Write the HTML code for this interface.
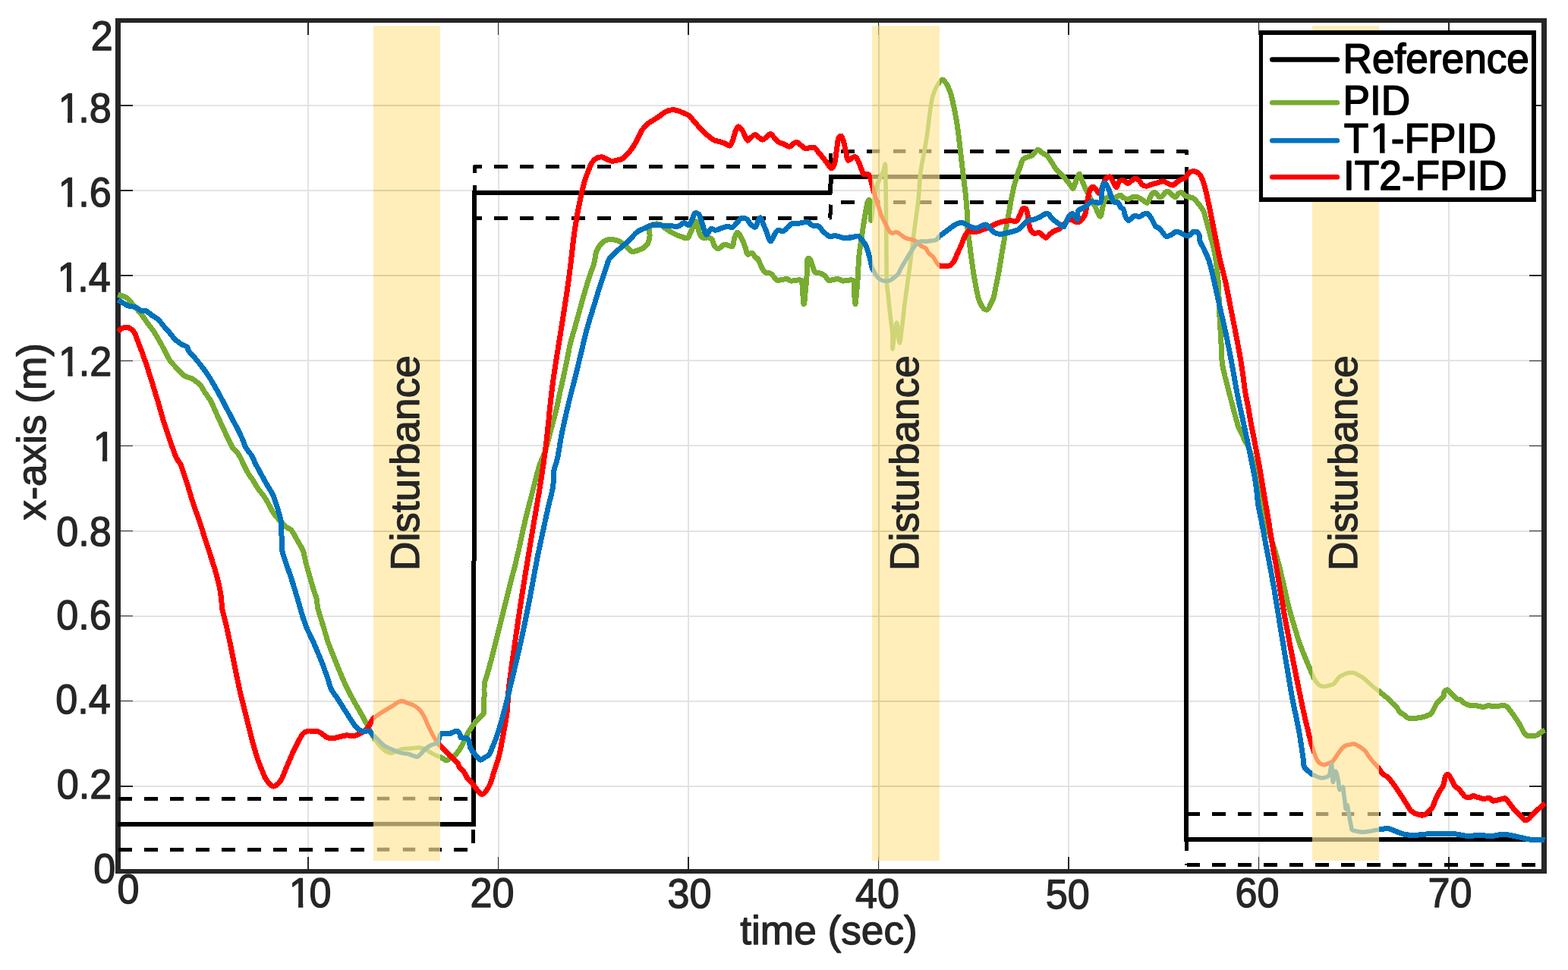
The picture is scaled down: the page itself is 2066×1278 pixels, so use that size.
<!DOCTYPE html>
<html lang="en"><head><meta charset="utf-8"><title>x-axis tracking: Reference, PID, T1-FPID, IT2-FPID</title>
<style>html,body{margin:0;padding:0;background:#fff}body{width:2066px;height:1278px;overflow:hidden}svg{display:block}text{font-family:"Liberation Sans",Arial,Helvetica,sans-serif;white-space:pre}</style>
</head><body>
<svg width="2066" height="1278" viewBox="0 0 2066 1278">
<defs>
<clipPath id="out"><path clip-rule="evenodd" d="M0,0H2066V1278H0Z M492.0,33.5V1133.8H579.7V33.5Z M1149.2,33.5V1133.8H1237.8V33.5Z M1729.0,33.5V1133.8H1816.8V33.5Z"/></clipPath>
<clipPath id="in"><rect x="492.0" y="33.5" width="87.7" height="1100.3"/><rect x="1149.2" y="33.5" width="88.6" height="1100.3"/><rect x="1729.0" y="33.5" width="87.8" height="1100.3"/></clipPath>
</defs>
<rect width="2066" height="1278" fill="#fff"/>
<path d="M406.0,26.9V1147.9 M656.5,26.9V1147.9 M907.1,26.9V1147.9 M1157.6,26.9V1147.9 M1408.1,26.9V1147.9 M1658.6,26.9V1147.9 M1909.1,26.9V1147.9 M155.5,1035.8H2034.4 M155.5,923.7H2034.4 M155.5,811.6H2034.4 M155.5,699.5H2034.4 M155.5,587.4H2034.4 M155.5,475.3H2034.4 M155.5,363.2H2034.4 M155.5,251.1H2034.4 M155.5,139.0H2034.4" stroke="#000" stroke-opacity="0.108" stroke-width="2" fill="none" shape-rendering="crispEdges"/>
<path d="M152.20,27.00H2037.70 M152.20,1147.90H2037.70" fill="none" stroke="#262626" stroke-width="5.8" shape-rendering="crispEdges"/>
<path d="M155.55,24.10V1150.80 M2034.40,24.10V1150.80" fill="none" stroke="#262626" stroke-width="6.6" shape-rendering="crispEdges"/>
<path d="M406.0,1147.9v-19.0 M406.0,26.9v19.0 M656.5,1147.9v-19.0 M656.5,26.9v19.0 M907.1,1147.9v-19.0 M907.1,26.9v19.0 M1157.6,1147.9v-19.0 M1157.6,26.9v19.0 M1408.1,1147.9v-19.0 M1408.1,26.9v19.0 M1658.6,1147.9v-19.0 M1658.6,26.9v19.0 M1909.1,1147.9v-19.0 M1909.1,26.9v19.0 M155.5,1035.8h19.0 M2034.4,1035.8h-19.0 M155.5,923.7h19.0 M2034.4,923.7h-19.0 M155.5,811.6h19.0 M2034.4,811.6h-19.0 M155.5,699.5h19.0 M2034.4,699.5h-19.0 M155.5,587.4h19.0 M2034.4,587.4h-19.0 M155.5,475.3h19.0 M2034.4,475.3h-19.0 M155.5,363.2h19.0 M2034.4,363.2h-19.0 M155.5,251.1h19.0 M2034.4,251.1h-19.0 M155.5,139.0h19.0 M2034.4,139.0h-19.0" stroke="#262626" stroke-width="1.5" fill="none" shape-rendering="crispEdges"/>
<defs>
<path id="pg" d="M155.5,388.4C162.3,390.7 163.9,390.1 167.1,392.3C170.3,394.4 171.9,397.8 174.8,401.0C178.3,405.0 183.1,410.1 186.5,414.5C189.5,418.4 191.8,422.3 194.4,425.9C197.0,429.4 199.5,432.0 202.0,435.8C205.1,440.3 208.6,446.6 211.3,451.5C213.6,455.5 215.4,459.0 217.5,462.9C219.7,467.0 221.5,471.7 224.2,475.5C226.7,479.1 230.0,481.9 233.0,485.1C236.1,488.4 239.0,492.4 242.6,494.9C246.1,497.2 250.6,497.6 254.2,499.7C257.7,501.8 261.2,504.5 263.9,507.5C266.4,510.3 267.8,513.7 269.9,517.0C272.3,520.5 275.3,523.9 277.5,527.8C279.8,531.8 281.3,536.2 283.2,540.4C285.2,544.8 287.3,549.5 289.3,553.8C291.1,557.9 292.8,561.5 294.7,565.6C296.7,569.9 298.9,574.8 301.0,579.0C302.9,582.8 304.3,586.4 306.5,589.7C308.7,592.9 312.0,595.2 314.2,598.5C316.5,601.9 318.0,605.8 320.0,609.7C322.2,614.0 324.4,619.1 326.8,623.2C328.9,626.8 331.2,629.6 333.4,633.0C335.7,636.7 337.9,640.9 340.4,644.5C342.8,647.9 345.7,650.7 348.1,654.2C350.6,657.8 352.7,662.0 354.8,665.9C356.9,669.5 358.5,673.2 360.7,676.5C362.8,679.6 365.3,682.2 367.8,685.0C370.2,687.7 372.5,690.6 375.2,692.9C377.9,695.2 381.5,696.2 383.9,698.7C386.4,701.3 387.9,705.2 389.8,708.4C391.7,711.7 393.7,715.1 395.4,718.2C396.9,720.9 398.3,722.8 399.4,725.8C400.8,729.6 401.4,734.8 402.5,739.3C403.7,743.9 404.9,748.5 406.2,753.0C407.5,757.5 408.8,762.0 410.1,766.5C411.4,771.0 412.9,776.2 414.2,780.0C415.2,783.0 416.2,784.8 416.9,787.8C417.8,791.7 417.8,796.9 418.8,801.4C419.8,805.9 421.5,810.5 422.8,814.9C424.0,818.9 425.2,822.5 426.4,826.5C427.7,830.9 429.2,836.3 430.4,840.1C431.2,842.9 431.7,844.5 432.7,847.3C434.1,851.1 436.2,856.4 438.0,861.1C440.0,866.1 442.2,871.5 444.2,876.4C446.1,881.1 447.9,885.5 449.8,890.0C451.7,894.5 453.8,899.2 455.8,903.5C457.7,907.5 459.5,911.1 461.6,915.1C463.9,919.5 466.6,924.2 469.1,928.7C471.7,933.2 474.6,938.1 477.0,942.3C478.9,945.8 480.6,948.9 482.3,952.2C483.9,955.3 485.3,958.5 486.9,961.6C488.4,964.5 489.8,967.2 491.7,970.2C493.7,973.6 496.1,977.6 498.7,980.7C501.1,983.6 503.7,986.4 506.5,988.4C508.9,990.2 511.6,992.1 514.2,992.3C516.7,992.5 519.3,990.9 521.9,990.0C524.5,989.1 526.8,987.6 529.7,986.9C533.1,986.1 537.4,986.4 541.3,986.1C545.2,985.8 549.4,984.7 552.9,985.1C555.8,985.4 558.2,986.4 560.7,987.5C563.4,988.7 565.9,990.7 568.5,992.1C571.1,993.5 574.2,995.1 576.3,996.1C577.5,996.6 578.3,996.8 579.4,997.3C580.7,997.9 582.4,998.5 583.8,999.3C585.2,1000.0 586.5,1001.9 587.9,1002.0C589.4,1002.1 590.8,1000.4 592.4,999.5C594.4,998.4 596.8,997.4 598.7,995.8C600.7,994.1 602.4,991.6 604.0,989.5C605.4,987.6 606.5,986.0 607.7,983.9C609.1,981.5 610.5,978.4 611.9,975.6C613.3,972.8 614.5,969.8 615.9,967.2C617.2,964.7 618.3,962.6 619.9,960.3C621.6,957.5 624.0,954.3 626.1,951.8C627.8,949.7 629.4,948.1 631.2,946.2C633.1,944.2 637.5,940.3 637.4,940.0C637.4,940.0 637.3,940.1 637.2,940.0C636.6,939.4 637.8,925.6 638.0,918.7C638.2,912.1 637.6,904.7 638.5,899.4C639.2,895.5 640.5,893.7 641.7,889.6C643.7,882.9 646.6,871.8 649.0,862.7C651.4,853.2 653.9,842.8 656.2,833.6C658.2,825.4 660.0,818.1 662.0,810.4C663.9,802.6 665.8,794.9 667.8,787.1C669.8,779.4 671.8,771.5 673.7,763.9C675.6,756.7 677.4,749.7 679.2,742.5C680.9,735.5 682.5,728.5 684.2,721.3C685.9,713.7 687.4,705.8 689.2,698.1C690.9,690.4 692.9,682.1 694.7,674.9C696.2,668.6 697.7,663.1 699.2,657.3C700.6,651.5 701.9,646.5 703.5,640.1C705.6,632.1 708.2,621.2 710.9,613.0C713.3,605.9 716.2,600.8 718.6,593.6C721.4,585.0 723.8,573.9 726.3,564.6C728.7,555.9 731.1,547.8 733.1,539.4C735.1,531.0 736.7,521.9 738.4,514.3C739.8,507.9 741.0,502.8 742.4,496.7C743.8,490.0 745.3,482.8 746.8,475.5C748.4,468.0 749.7,459.7 751.5,452.3C753.2,445.5 755.3,439.3 757.1,432.8C758.9,426.4 760.4,420.8 762.4,413.6C764.9,404.6 768.3,391.8 771.0,382.7C773.1,375.5 775.0,369.5 777.0,363.4C778.8,357.9 781.0,353.2 782.5,347.8C784.1,342.2 784.4,334.9 786.2,330.4C787.5,327.2 789.0,324.9 790.9,322.6C792.8,320.3 795.2,318.0 797.7,316.8C800.0,315.7 802.7,315.5 805.2,315.5C807.8,315.5 810.5,316.0 813.0,316.8C815.6,317.7 818.4,319.1 820.7,320.7C822.9,322.3 824.6,324.6 826.6,326.4C828.5,328.1 830.1,330.7 832.3,331.3C834.6,331.9 837.6,330.8 840.1,330.0C842.7,329.2 845.5,328.1 847.8,326.5C850.0,325.0 852.2,323.1 853.6,320.7C855.1,318.0 855.6,314.4 856.0,311.0C856.4,307.3 854.6,302.0 856.0,299.4C857.0,297.4 859.3,296.2 861.4,295.5C863.6,294.8 866.6,294.7 869.1,295.5C871.9,296.4 874.4,299.4 877.0,301.2C879.6,302.9 882.1,304.5 884.7,306.0C887.3,307.4 889.9,308.8 892.5,309.9C894.8,310.8 896.9,311.6 899.2,312.3C901.4,313.0 904.2,314.7 905.9,313.9C907.7,313.1 908.2,309.6 909.5,307.0C911.2,303.7 913.4,298.4 914.9,295.6C915.7,294.0 916.4,291.6 917.1,291.7C918.0,291.8 918.6,296.7 919.5,299.4C920.4,302.5 920.9,306.6 922.4,309.1C923.6,311.2 925.4,313.3 927.2,313.9C928.9,314.5 931.2,312.8 933.0,313.0C934.7,313.2 936.6,313.6 937.9,314.9C939.8,316.8 939.9,322.5 941.7,324.6C943.0,326.2 944.8,327.6 946.6,327.5C948.9,327.4 951.8,322.7 954.3,322.2C956.3,321.8 958.3,323.1 960.1,323.6C961.8,323.9 963.8,325.4 965.0,324.6C966.9,323.4 966.6,316.3 967.9,313.0C968.9,310.4 970.2,306.3 971.7,306.2C973.4,306.1 975.8,311.7 977.5,314.9C979.4,318.4 980.8,323.0 982.2,326.6C983.4,329.7 983.5,334.3 985.3,335.2C986.7,335.9 989.4,332.7 991.1,333.3C993.1,333.9 994.5,339.4 995.9,340.1C996.6,340.5 997.2,339.8 997.8,340.1C998.5,340.5 999.0,341.7 999.6,342.9C1000.7,345.0 1002.0,349.2 1003.5,352.0C1004.9,354.6 1006.0,357.7 1008.1,359.0C1010.0,360.2 1013.1,359.2 1015.1,360.2C1017.0,361.2 1018.2,363.3 1019.7,364.8C1021.3,366.3 1022.6,368.8 1024.4,369.4C1026.1,369.9 1028.2,368.7 1030.2,368.5C1032.4,368.2 1035.2,367.3 1037.2,367.7C1038.9,368.0 1040.1,369.7 1041.8,370.0C1043.8,370.4 1046.5,369.4 1048.8,369.3C1051.1,369.2 1054.4,368.1 1055.8,369.4C1057.5,370.9 1056.7,375.0 1057.2,378.7C1057.8,384.5 1058.5,400.8 1059.2,400.8C1059.8,400.8 1060.6,390.4 1061.2,384.5C1062.0,377.4 1062.7,368.8 1063.2,361.3C1063.7,354.2 1062.6,341.6 1064.5,340.4C1065.2,339.9 1066.5,340.7 1067.4,341.6C1069.0,343.3 1069.9,348.8 1071.2,351.9C1072.2,354.5 1072.5,357.6 1074.3,359.0C1076.0,360.3 1079.1,359.4 1081.3,360.2C1083.4,361.0 1085.4,362.1 1087.1,363.6C1088.9,365.2 1089.9,368.7 1091.8,369.4C1093.5,370.0 1095.6,368.7 1097.6,368.5C1099.8,368.2 1102.3,367.4 1104.5,367.7C1106.6,368.0 1108.3,369.7 1110.4,370.0C1112.6,370.3 1115.0,369.4 1117.3,369.3C1119.6,369.2 1122.8,368.0 1124.3,369.4C1126.5,371.5 1125.1,379.4 1125.5,384.5C1126.0,389.8 1126.4,400.8 1126.9,400.8C1127.4,400.8 1128.1,390.4 1128.7,384.5C1129.4,377.4 1130.0,369.0 1130.5,361.3C1131.0,353.6 1131.1,345.8 1131.8,338.1C1132.5,330.3 1134.0,322.0 1135.0,314.8C1135.9,308.6 1136.6,303.5 1137.6,297.4C1138.7,290.5 1140.1,281.3 1141.2,275.6C1142.0,271.7 1142.3,268.1 1143.3,266.0C1143.9,264.8 1144.9,263.3 1145.5,263.5C1146.5,263.8 1146.4,270.9 1146.7,275.0C1147.2,279.9 1147.2,291.0 1147.8,291.0C1148.4,291.0 1149.4,280.2 1150.1,275.0C1150.9,270.2 1151.7,265.8 1152.4,261.0C1153.2,256.0 1153.6,250.4 1154.9,245.9C1156.0,242.2 1157.6,239.2 1159.0,235.9C1160.4,232.7 1162.2,229.8 1163.4,226.5C1164.6,223.1 1165.7,215.9 1166.3,216.0C1167.1,216.1 1166.7,228.2 1166.9,235.0C1167.0,242.8 1167.1,249.1 1167.3,260.0C1167.5,280.7 1167.9,329.8 1168.1,350.0C1168.2,360.3 1167.9,366.3 1168.4,373.3C1168.8,379.0 1169.6,383.6 1170.2,388.8C1170.8,394.0 1171.2,399.1 1171.8,404.3C1172.3,409.5 1172.8,414.3 1173.5,419.8C1174.2,426.1 1175.4,433.3 1175.8,440.0C1176.2,446.7 1175.5,460.0 1176.0,460.0C1176.4,460.0 1177.5,448.0 1178.4,442.1C1179.4,436.3 1180.6,425.0 1181.6,425.0C1182.9,425.0 1184.1,452.0 1185.3,452.0C1186.2,452.0 1187.2,440.9 1187.9,435.5C1188.6,430.2 1189.2,425.2 1189.8,420.0C1190.4,414.8 1190.9,409.5 1191.5,404.3C1192.1,399.1 1192.8,394.5 1193.5,388.8C1194.5,381.8 1195.8,372.5 1196.8,365.5C1197.6,359.8 1198.1,355.9 1198.9,350.0C1199.9,342.0 1201.2,330.9 1202.3,322.0C1203.4,313.9 1204.3,306.5 1205.3,298.8C1206.3,291.0 1207.6,282.5 1208.5,275.5C1209.2,269.8 1209.7,266.1 1210.3,260.0C1211.2,250.9 1211.6,237.0 1213.0,226.5C1214.2,217.0 1216.4,207.7 1217.9,199.4C1219.1,192.4 1219.9,188.0 1221.2,179.9C1223.3,166.5 1225.5,138.8 1229.0,126.5C1231.0,119.6 1233.3,114.9 1235.8,111.0C1237.6,108.3 1239.7,104.8 1241.6,104.8C1243.5,104.8 1245.7,108.4 1247.4,111.0C1249.4,114.1 1250.9,118.3 1252.3,122.6C1254.0,127.8 1255.3,134.0 1256.7,140.1C1258.1,146.8 1259.5,154.1 1260.7,161.3C1261.9,168.9 1262.8,176.5 1263.8,184.5C1264.9,193.2 1265.9,203.0 1266.9,211.7C1267.9,219.7 1268.8,227.2 1269.7,234.9C1270.6,242.6 1271.7,250.7 1272.5,258.1C1273.1,264.9 1273.7,270.9 1274.1,277.5C1274.5,284.6 1274.2,292.3 1274.8,299.4C1275.3,306.0 1276.4,312.3 1277.2,318.7C1278.0,325.2 1278.7,331.5 1279.6,338.1C1280.6,345.0 1281.6,352.5 1282.7,359.4C1283.7,366.0 1284.9,372.6 1286.1,378.6C1287.2,384.1 1288.2,389.8 1289.6,394.2C1290.7,397.5 1291.9,400.4 1293.4,402.7C1294.6,404.6 1295.8,406.6 1297.3,407.4C1298.5,408.0 1300.1,408.4 1301.2,407.8C1302.7,407.0 1303.6,404.0 1304.7,401.8C1306.1,399.1 1307.8,396.1 1308.9,392.7C1310.3,388.6 1310.9,383.5 1311.9,378.7C1313.0,373.7 1314.2,368.0 1315.1,363.2C1315.9,359.0 1316.5,355.8 1317.2,351.6C1318.1,346.4 1319.1,339.9 1320.0,334.2C1320.9,328.9 1321.8,323.8 1322.7,318.7C1323.6,313.5 1324.5,308.2 1325.3,303.2C1326.1,298.7 1326.8,294.2 1327.5,290.1C1328.2,286.5 1328.7,283.8 1329.4,280.0C1330.3,274.9 1331.5,267.8 1332.6,262.0C1333.7,256.7 1334.6,251.5 1335.8,246.6C1337.0,241.9 1338.2,237.6 1339.6,233.1C1341.0,228.5 1342.8,223.6 1344.3,219.4C1345.6,215.9 1346.2,211.7 1348.1,209.7C1349.5,208.2 1351.3,207.9 1353.2,207.2C1355.2,206.3 1357.9,206.1 1359.7,204.9C1361.4,203.8 1362.5,201.6 1363.8,200.3C1365.1,199.1 1366.2,197.1 1367.5,197.1C1369.0,197.0 1370.6,199.5 1372.4,200.8C1374.7,202.4 1377.9,203.7 1380.1,205.8C1382.4,208.0 1383.8,210.9 1385.7,213.7C1387.7,216.8 1389.6,220.6 1391.7,223.3C1393.5,225.6 1395.5,227.0 1397.5,229.1C1399.8,231.5 1402.6,234.4 1404.9,237.0C1407.1,239.6 1409.4,242.5 1411.0,244.6C1412.2,246.1 1413.0,248.5 1413.9,248.4C1414.9,248.3 1415.6,244.7 1416.5,242.5C1417.6,239.7 1418.5,235.4 1419.7,233.0C1420.5,231.3 1421.5,229.0 1422.3,229.1C1423.2,229.2 1423.7,232.7 1424.6,234.9C1425.7,237.7 1427.1,241.4 1428.5,244.6C1429.8,247.8 1431.1,250.9 1432.7,254.0C1434.3,257.3 1436.3,260.6 1438.1,263.9C1439.9,267.2 1441.8,270.3 1443.7,273.7C1445.7,277.4 1448.3,285.4 1449.8,285.2C1451.3,285.0 1451.8,277.3 1452.8,273.6C1453.7,270.2 1454.2,266.3 1455.6,263.9C1456.6,262.2 1457.7,260.7 1459.4,260.1C1461.4,259.4 1464.5,261.4 1467.2,261.0C1470.3,260.6 1474.7,256.7 1476.9,257.2C1478.4,257.5 1478.7,259.6 1480.0,260.4C1481.6,261.4 1484.2,262.4 1486.3,262.3C1488.4,262.2 1490.5,260.2 1492.6,259.8C1494.7,259.4 1496.9,259.3 1498.9,259.8C1501.0,260.3 1503.0,261.9 1505.1,263.1C1507.2,264.4 1509.8,267.7 1511.5,267.3C1513.2,266.9 1514.0,262.7 1515.3,260.4C1516.5,258.3 1517.5,255.0 1519.0,254.1C1520.1,253.5 1521.6,253.5 1522.8,254.1C1524.5,254.9 1526.1,259.3 1527.8,259.8C1529.0,260.1 1530.4,259.3 1531.6,258.5C1533.2,257.4 1534.4,253.7 1536.0,252.9C1537.2,252.3 1538.6,252.5 1539.8,252.9C1541.3,253.4 1542.8,255.4 1544.3,256.5C1545.7,257.7 1547.2,259.9 1548.6,259.8C1550.1,259.6 1551.4,255.7 1553.0,254.7C1554.2,253.9 1555.5,253.2 1556.8,253.5C1558.5,253.8 1560.0,256.9 1561.8,257.9C1563.4,258.8 1565.2,259.1 1566.9,259.6C1568.5,260.1 1570.3,260.1 1571.9,261.0C1573.7,262.0 1575.1,263.9 1576.7,265.6C1578.4,267.5 1580.2,269.7 1581.7,271.8C1583.2,273.9 1584.6,275.6 1585.7,278.0C1587.0,280.9 1587.8,284.8 1588.7,288.1C1589.7,291.5 1590.5,294.7 1591.5,298.2C1592.5,301.8 1593.5,305.7 1594.5,309.5C1595.5,313.3 1596.6,317.1 1597.5,320.8C1598.5,324.6 1599.3,328.2 1600.1,332.1C1601.0,336.2 1601.6,339.8 1602.3,344.7C1603.3,351.5 1604.4,361.4 1605.0,368.9C1605.5,375.6 1605.7,381.5 1605.9,387.8C1606.2,394.1 1606.2,400.5 1606.4,406.6C1606.6,412.2 1607.0,417.4 1607.3,423.0C1607.6,428.8 1608.1,434.8 1608.4,440.6C1608.8,446.2 1609.0,451.5 1609.2,457.0C1609.4,462.4 1609.6,468.7 1609.9,473.3C1610.2,476.7 1610.4,479.0 1610.9,482.0C1611.4,485.3 1612.2,488.7 1613.1,492.2C1613.9,495.9 1615.0,499.6 1616.0,503.5C1617.1,507.7 1618.1,511.8 1619.3,516.4C1620.7,521.8 1622.3,528.2 1623.8,534.0C1625.2,539.5 1626.8,545.2 1628.2,550.3C1629.5,554.8 1630.4,559.0 1631.9,562.9C1633.3,566.5 1635.2,569.8 1636.8,573.1C1638.2,576.0 1639.5,578.8 1640.9,581.7C1642.4,584.6 1644.3,587.3 1645.7,590.6C1647.3,594.4 1648.2,599.0 1649.5,603.2C1650.8,607.4 1652.0,611.6 1653.3,615.8C1654.5,620.0 1655.9,623.9 1657.0,628.4C1658.2,633.4 1658.7,638.9 1659.9,644.7C1661.1,651.4 1662.9,659.7 1664.4,666.4C1665.6,672.2 1666.8,677.2 1668.0,682.7C1669.2,688.5 1670.1,694.7 1671.6,700.3C1673.0,705.6 1675.0,710.4 1676.7,715.4C1678.3,720.5 1680.0,725.5 1681.4,730.6C1682.9,735.6 1684.2,740.6 1685.5,745.6C1686.8,750.6 1688.0,755.8 1689.1,760.7C1690.3,765.4 1691.3,770.0 1692.4,774.6C1693.4,779.2 1694.4,783.9 1695.4,788.4C1696.4,792.7 1697.3,796.8 1698.4,800.9C1699.4,804.9 1700.5,808.7 1701.7,812.6C1702.8,816.7 1704.2,821.0 1705.4,825.2C1706.7,829.4 1707.9,833.6 1709.2,837.8C1710.5,842.0 1711.9,846.3 1713.3,850.2C1714.6,853.8 1715.9,857.0 1717.3,860.4C1718.8,864.1 1720.4,868.2 1721.9,871.7C1723.2,874.8 1724.4,877.7 1725.6,880.5C1726.8,883.1 1727.8,885.5 1729.0,888.1C1730.3,890.9 1731.4,894.4 1733.1,896.9C1734.6,899.1 1736.2,901.3 1738.2,902.6C1740.0,903.8 1742.4,904.4 1744.5,904.5C1746.5,904.6 1748.6,903.7 1750.6,903.2C1752.8,902.6 1755.3,902.4 1757.0,901.3C1758.6,900.2 1759.5,898.4 1760.7,896.8C1762.0,895.2 1763.1,893.2 1764.6,891.9C1766.1,890.6 1767.9,889.9 1769.8,889.1C1771.7,888.2 1773.7,887.2 1775.9,886.8C1778.3,886.3 1781.3,886.2 1783.5,886.6C1785.4,887.0 1786.7,888.0 1788.5,888.8C1790.4,889.8 1792.8,890.9 1794.7,892.1C1796.4,893.3 1798.0,894.5 1799.6,895.8C1801.1,897.1 1802.3,898.5 1803.7,899.9C1805.3,901.3 1806.9,902.7 1808.8,904.3C1811.1,906.2 1814.3,908.5 1816.7,910.5C1818.9,912.3 1820.9,914.0 1822.9,915.6C1824.9,917.3 1827.0,918.6 1828.9,920.3C1830.8,922.1 1832.4,924.4 1834.3,926.3C1836.2,928.2 1838.7,929.6 1840.3,931.6C1841.9,933.5 1842.4,936.2 1844.0,937.9C1845.6,939.6 1848.2,940.5 1850.1,941.9C1852.0,943.3 1853.3,945.4 1855.4,946.1C1857.6,946.9 1860.4,946.3 1862.9,946.2C1865.4,946.2 1868.0,946.1 1870.4,945.7C1872.9,945.3 1875.4,944.6 1877.8,943.8C1880.4,942.9 1883.7,942.1 1885.6,940.4C1887.4,938.8 1888.0,936.2 1889.3,934.0C1890.5,931.7 1891.5,928.7 1893.1,926.6C1894.6,924.6 1896.6,923.1 1898.2,921.5C1899.5,920.2 1901.1,919.3 1901.9,917.8C1902.8,916.1 1902.2,913.0 1903.2,911.5C1904.1,910.2 1905.8,908.8 1907.0,908.9C1908.2,909.0 1909.2,910.7 1910.4,911.8C1911.8,913.1 1913.2,914.8 1914.7,916.3C1916.3,917.8 1917.8,919.9 1919.6,920.9C1921.2,921.8 1923.0,921.4 1924.6,922.2C1926.4,923.1 1927.7,925.5 1929.6,926.6C1931.5,927.8 1933.7,928.6 1935.9,929.1C1938.3,929.6 1941.1,929.4 1943.5,929.6C1945.7,929.9 1947.8,930.1 1949.8,930.5C1951.5,930.8 1953.0,931.7 1954.8,931.6C1956.8,931.5 1958.9,929.8 1961.1,929.7C1963.5,929.6 1966.1,930.9 1968.6,931.0C1971.1,931.1 1973.8,930.2 1976.2,930.0C1978.4,929.8 1980.7,929.3 1982.5,929.7C1984.0,930.0 1985.1,930.6 1986.3,931.6C1987.7,932.8 1988.7,934.8 1990.1,936.6C1991.6,938.6 1993.3,940.8 1994.9,943.0C1996.6,945.4 1998.3,947.9 2000.0,950.6C2001.7,953.4 2003.5,956.5 2005.0,959.4C2006.4,961.9 2007.4,965.1 2008.9,966.8C2010.0,968.1 2011.2,969.0 2012.7,969.4C2014.5,969.9 2016.9,969.3 2019.0,969.2C2021.1,969.1 2023.5,969.4 2025.3,968.7C2026.8,968.1 2027.8,966.6 2029.1,965.7C2030.3,964.8 2031.7,963.9 2032.9,963.3C2033.8,962.9 2034.8,962.7 2035.5,962.4"/>
<path id="pr" d="M155.5,436.8C157.5,435.2 158.4,433.9 160.3,432.9C162.3,431.9 165.0,430.9 167.1,431.0C168.9,431.1 170.4,431.9 171.9,432.9C173.7,434.1 175.4,435.7 176.8,437.8C178.5,440.3 179.4,444.0 180.7,447.4C182.2,451.1 183.8,455.3 185.3,459.2C186.8,463.0 188.2,467.0 189.5,470.7C190.7,474.1 191.8,477.0 192.9,480.5C194.3,484.6 195.9,489.5 197.2,493.9C198.5,497.9 199.6,501.5 200.9,505.5C202.2,509.9 203.7,514.7 205.0,519.1C206.3,523.1 207.4,526.7 208.6,530.7C209.9,535.1 211.2,539.9 212.5,544.2C213.6,548.2 214.6,551.8 215.8,555.8C217.1,560.2 218.8,565.1 220.2,569.4C221.6,573.4 222.9,577.1 224.2,581.0C225.5,584.9 226.9,588.8 228.3,592.6C229.8,596.5 231.1,600.9 232.9,604.3C234.4,607.1 236.3,608.7 237.8,611.6C239.7,615.3 241.1,620.6 242.6,625.2C244.2,629.7 245.6,634.1 247.1,638.8C248.7,643.8 250.1,649.1 251.7,654.1C253.1,658.8 254.6,663.5 256.1,667.8C257.5,671.8 258.9,675.6 260.2,679.3C261.4,682.7 262.4,685.7 263.6,689.2C265.0,693.3 266.4,698.0 267.9,702.6C269.4,707.5 271.1,713.1 272.8,718.0C274.3,722.8 275.8,727.0 277.3,731.8C279.0,736.7 280.7,742.1 282.2,747.1C283.6,751.8 284.9,756.0 286.1,760.7C287.3,765.7 288.7,771.3 289.7,776.3C290.5,780.9 291.2,785.4 291.7,789.7C292.2,793.8 292.0,797.4 292.6,801.4C293.3,805.8 294.9,810.6 295.9,814.9C296.9,818.9 297.6,822.0 298.7,826.5C300.1,832.9 302.0,842.1 303.6,849.4C305.0,856.1 306.2,862.3 307.5,868.7C308.8,875.2 310.0,881.6 311.3,888.1C312.7,894.5 314.0,900.9 315.4,907.3C316.9,913.8 318.5,920.3 320.1,926.8C321.7,933.3 323.3,939.7 324.9,946.2C326.5,952.6 328.1,959.1 329.7,965.5C331.4,971.9 333.1,978.8 334.8,984.8C336.4,990.3 337.8,995.2 339.6,1000.3C341.4,1005.5 343.5,1011.0 345.6,1015.7C347.3,1020.0 348.9,1024.2 351.0,1027.5C352.7,1030.2 354.9,1032.8 356.8,1034.3C358.1,1035.3 359.4,1036.2 360.7,1036.2C362.0,1036.2 363.3,1035.3 364.6,1034.3C366.5,1032.8 368.7,1030.3 370.4,1027.5C372.6,1023.9 374.3,1018.4 376.2,1013.9C378.1,1009.4 380.0,1004.9 382.0,1000.4C384.0,995.9 385.9,991.2 388.0,986.9C389.9,982.9 391.9,978.9 393.9,975.4C395.7,972.2 397.2,968.6 399.4,966.5C401.1,964.8 403.2,963.7 405.2,963.2C407.1,962.7 409.1,963.2 411.1,963.2C413.0,963.2 415.0,962.8 416.9,963.2C418.9,963.6 420.7,964.4 422.7,965.5C425.2,966.9 427.7,970.1 430.4,971.3C432.9,972.4 435.6,972.9 438.2,972.9C440.8,972.9 443.2,971.8 445.9,971.2C448.9,970.6 452.2,969.3 455.6,969.0C459.3,968.6 463.8,970.0 467.2,969.4C470.0,968.9 472.4,967.3 474.7,966.1C476.9,965.0 478.9,964.2 480.8,962.6C482.9,960.8 484.9,958.3 486.6,955.8C488.4,953.2 489.3,949.5 491.4,947.1C493.4,944.7 496.3,943.1 498.9,941.3C501.4,939.5 503.9,938.0 506.6,936.3C509.5,934.5 512.9,932.8 515.9,930.9C518.7,929.2 521.4,926.7 523.9,925.5C525.9,924.5 527.6,923.6 529.7,923.6C532.1,923.7 534.8,925.5 537.4,926.5C540.0,927.5 542.7,928.0 545.2,929.4C547.9,930.9 550.7,932.8 552.9,935.2C555.2,937.6 556.9,940.6 558.7,943.9C560.9,947.8 562.6,953.0 564.7,957.3C566.6,961.4 568.6,965.3 570.6,969.0C572.5,972.4 574.6,976.0 576.4,978.5C577.8,980.4 578.9,981.7 580.3,983.2C581.9,984.8 583.8,986.4 585.6,988.0C587.3,989.7 588.9,991.1 590.7,993.0C592.9,995.1 595.3,997.9 597.5,1000.1C599.5,1002.2 602.2,1003.8 603.4,1005.8C604.3,1007.3 603.9,1008.9 604.9,1010.5C606.2,1012.6 609.3,1014.3 611.1,1016.7C613.0,1019.2 614.0,1022.7 615.8,1025.2C617.5,1027.6 619.8,1029.4 621.7,1031.6C623.7,1034.0 625.3,1036.6 627.4,1039.0C629.7,1041.6 632.6,1046.6 635.2,1046.5C638.1,1046.4 641.4,1041.0 643.9,1036.8C647.2,1031.3 649.1,1022.4 651.4,1015.4C653.6,1008.8 655.8,1002.7 657.5,996.2C659.2,989.8 660.1,983.3 661.4,976.8C662.6,970.3 663.9,963.8 665.0,957.4C666.1,950.9 667.3,945.2 668.1,938.1C669.1,929.4 669.0,920.3 670.1,909.0C671.7,893.3 675.5,868.7 677.6,853.0C679.2,841.7 680.3,834.0 681.8,823.9C683.4,812.8 685.3,800.2 687.0,789.1C688.6,779.0 690.1,769.7 691.6,760.0C693.2,750.3 694.8,740.8 696.4,731.0C698.1,720.8 699.8,710.0 701.5,700.0C703.1,690.7 704.7,681.6 706.1,672.9C707.5,664.9 708.7,658.3 710.1,649.7C711.9,638.8 714.1,624.5 715.8,613.0C717.3,602.7 718.5,593.6 719.7,583.9C720.8,574.2 721.8,564.6 722.8,554.9C723.8,545.2 724.7,535.1 725.8,525.8C726.8,517.1 727.8,508.9 728.9,500.7C730.0,492.8 731.2,485.3 732.4,477.4C733.7,469.2 735.1,460.5 736.4,452.3C737.7,444.4 739.0,436.4 740.1,429.0C741.2,422.3 742.0,417.2 743.1,409.7C744.7,399.4 747.1,384.5 748.7,373.0C750.1,362.7 751.2,353.6 752.4,343.9C753.6,334.2 754.5,324.0 755.7,314.9C756.8,306.8 757.8,299.1 759.1,291.7C760.2,285.0 761.3,278.8 762.6,272.3C763.9,265.8 765.3,259.0 766.7,252.9C768.0,247.5 769.2,242.4 770.7,237.5C772.2,232.8 773.9,228.2 775.6,224.1C777.0,220.5 778.2,216.9 780.1,214.2C781.7,211.8 783.6,209.6 785.9,208.4C788.1,207.2 791.2,206.7 793.6,207.0C795.7,207.3 797.5,208.9 799.5,209.8C801.6,210.7 803.9,212.1 806.2,212.3C808.4,212.5 810.7,211.6 813.0,211.1C815.2,210.6 817.6,210.5 819.7,209.4C822.1,208.1 824.2,205.5 826.2,203.3C828.3,201.2 830.1,199.1 832.0,196.6C834.0,193.7 836.6,189.5 838.0,187.0C838.9,185.5 839.2,184.9 840.0,183.3C841.4,180.5 843.4,175.1 845.8,171.6C848.0,168.3 850.8,165.2 853.6,162.9C856.0,160.8 858.7,159.7 861.3,158.1C863.8,156.4 866.4,154.8 868.9,153.1C871.5,151.3 874.1,148.8 876.8,147.4C879.3,146.1 881.9,145.2 884.5,144.9C887.1,144.6 889.8,144.9 892.3,145.5C894.9,146.1 897.4,147.5 899.9,148.6C902.5,149.7 905.3,150.5 907.8,152.3C910.7,154.5 913.3,158.7 915.7,161.4C917.7,163.6 919.4,165.4 921.3,167.5C923.3,169.6 925.3,171.8 927.3,173.8C929.3,175.7 931.1,177.4 933.2,179.1C935.5,181.0 938.1,183.3 940.8,184.6C943.3,185.8 945.9,185.9 948.5,186.7C951.0,187.5 953.8,188.4 956.0,189.4C958.0,190.2 959.8,192.5 961.3,192.1C962.9,191.7 963.9,188.5 965.0,186.1C966.5,182.8 966.5,181.1 968.8,173.6C970.6,170.4 971.0,167.1 972.6,166.8C974.0,166.5 976.1,168.9 977.5,170.7C979.2,172.9 980.2,176.7 981.6,179.2C982.8,181.4 983.8,185.0 985.2,185.2C986.6,185.4 988.6,182.0 990.3,180.6C991.8,179.4 993.3,177.4 994.9,177.4C996.5,177.4 998.1,179.7 999.7,180.9C1001.3,182.0 1003.0,184.2 1004.6,184.2C1006.2,184.2 1007.6,182.3 1009.3,181.1C1011.1,179.8 1013.4,176.4 1015.2,176.5C1017.0,176.6 1018.4,179.6 1020.1,181.3C1021.9,183.2 1023.7,185.6 1025.9,187.1C1028.1,188.6 1031.1,189.1 1033.5,190.2C1035.9,191.2 1038.4,193.6 1040.4,193.3C1042.2,193.0 1043.5,190.1 1045.2,189.1C1046.7,188.2 1048.5,187.3 1050.1,187.5C1051.8,187.8 1053.2,189.8 1054.9,191.0C1056.7,192.4 1058.6,194.7 1060.7,195.3C1062.5,195.8 1064.5,195.0 1066.5,194.9C1068.7,194.8 1071.4,193.7 1073.3,194.5C1075.4,195.4 1076.6,198.5 1078.3,200.5C1080.0,202.6 1081.7,204.5 1083.6,206.8C1085.6,209.3 1087.9,212.4 1090.0,215.0C1091.9,217.5 1094.0,222.1 1095.6,222.0C1097.0,221.9 1098.4,218.8 1099.4,216.2C1101.1,211.8 1101.4,202.9 1102.5,196.8C1103.4,191.4 1103.5,184.1 1105.2,181.3C1106.0,180.0 1107.3,178.8 1108.2,179.0C1109.4,179.3 1110.2,182.7 1111.1,185.2C1112.3,188.8 1113.1,194.2 1114.3,198.6C1115.4,202.9 1116.0,210.6 1117.8,211.3C1118.9,211.7 1120.4,209.5 1121.9,208.7C1123.3,207.9 1125.1,206.2 1126.5,206.5C1128.0,206.8 1129.2,209.3 1130.4,211.3C1132.0,214.0 1133.2,218.6 1134.6,221.9C1135.8,224.7 1136.4,228.5 1138.2,229.7C1139.7,230.7 1142.6,228.8 1144.0,229.7C1145.5,230.6 1146.1,233.3 1146.9,235.5C1147.9,238.3 1148.4,241.6 1149.3,245.2C1150.5,249.6 1152.2,255.4 1153.6,259.9C1154.8,263.6 1155.8,266.5 1157.0,270.2C1158.3,274.3 1159.3,279.1 1161.0,283.2C1162.6,287.2 1164.7,290.9 1166.7,294.7C1168.6,298.4 1170.7,303.8 1172.7,305.7C1173.7,306.7 1174.6,307.1 1175.8,307.2C1177.3,307.3 1179.5,305.5 1181.2,305.7C1183.0,306.0 1184.7,307.8 1186.5,309.0C1188.5,310.3 1190.5,312.3 1192.8,313.4C1195.1,314.5 1197.9,314.6 1200.4,315.4C1202.8,316.2 1205.4,316.7 1207.5,318.1C1209.6,319.5 1210.9,322.0 1212.9,323.5C1215.0,325.1 1218.1,325.7 1219.9,327.4C1221.7,329.1 1222.2,331.8 1223.8,333.6C1225.3,335.4 1227.6,336.4 1229.2,338.2C1230.9,340.1 1232.0,342.9 1233.5,345.0C1234.8,346.9 1235.9,349.4 1237.7,350.2C1239.4,351.0 1241.7,350.2 1243.9,350.1C1246.3,350.0 1249.6,350.7 1251.7,349.8C1253.6,349.0 1254.9,347.2 1256.3,345.2C1258.3,342.3 1259.9,337.5 1261.7,333.6C1263.5,329.7 1265.3,325.8 1266.9,321.9C1268.6,318.1 1269.9,313.6 1271.8,310.3C1273.4,307.6 1276.6,303.2 1277.2,303.4C1277.4,303.5 1277.1,304.3 1277.4,304.6C1278.3,305.4 1282.6,305.8 1285.2,305.6C1287.8,305.4 1290.3,304.3 1292.8,303.4C1295.4,302.5 1298.0,301.5 1300.6,300.4C1303.2,299.3 1305.8,297.8 1308.5,296.7C1311.1,295.5 1313.7,294.2 1316.3,293.3C1318.8,292.5 1321.4,291.8 1324.0,291.4C1326.5,291.0 1329.1,290.9 1331.7,290.8C1334.3,290.7 1337.4,292.1 1339.4,291.0C1341.6,289.8 1342.5,285.8 1343.9,283.2C1345.4,280.4 1346.3,275.4 1348.1,274.6C1349.2,274.1 1351.0,274.5 1352.0,275.5C1353.9,277.4 1353.9,284.6 1354.9,289.1C1355.9,293.6 1356.1,299.5 1357.8,302.7C1359.0,304.9 1360.7,306.9 1362.6,307.5C1364.5,308.1 1367.4,306.0 1369.4,306.5C1371.3,307.0 1372.7,309.2 1374.2,310.4C1375.6,311.4 1376.7,313.4 1378.1,313.3C1379.9,313.2 1382.1,309.4 1384.1,307.8C1386.0,306.3 1387.9,305.0 1389.9,304.0C1391.7,303.0 1393.7,302.8 1395.5,301.7C1397.5,300.4 1399.3,298.4 1401.2,296.6C1403.2,294.6 1405.0,291.1 1407.2,290.1C1409.0,289.3 1411.1,289.7 1413.0,290.1C1415.0,290.6 1416.9,293.0 1418.8,293.0C1420.7,293.0 1422.9,291.6 1424.6,290.1C1426.5,288.5 1428.1,286.3 1429.4,283.3C1431.2,279.0 1431.5,271.6 1432.6,266.0C1433.7,260.6 1434.4,253.8 1436.2,250.4C1437.3,248.3 1438.7,246.1 1440.1,246.1C1441.6,246.1 1443.3,249.0 1444.7,250.6C1446.2,252.1 1447.6,255.4 1448.8,255.2C1450.4,254.9 1451.5,248.1 1453.0,244.7C1454.4,241.4 1455.5,236.8 1457.5,234.9C1458.9,233.6 1460.9,232.5 1462.3,233.0C1464.2,233.6 1465.7,238.3 1467.2,240.7C1468.6,242.8 1469.9,246.6 1471.1,246.5C1472.5,246.4 1473.1,240.2 1474.9,238.8C1476.3,237.7 1478.3,237.5 1480.0,237.8C1482.1,238.1 1484.3,241.6 1486.3,241.5C1488.1,241.4 1489.7,239.0 1491.4,237.9C1492.9,236.9 1494.2,235.3 1495.7,235.2C1497.1,235.1 1498.7,236.0 1500.1,237.1C1501.9,238.5 1503.3,242.0 1505.2,243.4C1506.7,244.5 1508.4,245.2 1510.2,245.3C1512.2,245.4 1514.3,244.0 1516.5,243.4C1518.9,242.6 1521.4,241.8 1524.1,241.1C1526.9,240.4 1530.2,238.7 1532.9,239.0C1535.2,239.2 1537.1,241.0 1539.2,241.9C1541.3,242.7 1543.5,244.3 1545.4,244.0C1547.3,243.7 1548.8,241.5 1550.5,240.3C1552.2,239.1 1553.9,237.9 1555.7,236.9C1557.6,235.8 1560.0,235.4 1561.8,234.0C1563.8,232.4 1565.1,229.1 1566.8,227.7C1568.0,226.7 1569.2,226.0 1570.6,225.8C1572.1,225.5 1574.0,225.8 1575.6,226.4C1577.4,227.0 1579.3,228.1 1580.7,229.6C1582.3,231.3 1583.2,234.2 1584.2,236.6C1585.2,239.1 1586.0,241.4 1586.8,244.0C1587.8,247.1 1588.6,250.7 1589.4,254.1C1590.3,257.8 1591.1,261.5 1591.9,265.4C1592.8,269.5 1593.7,273.8 1594.5,278.0C1595.3,282.2 1596.2,286.4 1597.0,290.6C1597.9,294.8 1598.7,299.0 1599.6,303.2C1600.4,307.4 1601.3,311.6 1602.1,315.8C1602.9,320.0 1603.7,324.2 1604.6,328.4C1605.5,332.6 1606.3,336.9 1607.2,340.9C1608.0,344.4 1608.8,347.5 1609.7,351.0C1610.7,354.7 1611.7,358.5 1612.7,362.7C1613.9,367.4 1615.0,372.6 1616.1,377.7C1617.2,383.0 1618.2,388.6 1619.3,394.0C1620.3,399.5 1621.4,405.0 1622.5,410.4C1623.5,415.5 1624.5,420.4 1625.5,425.5C1626.6,430.9 1627.7,436.4 1628.7,441.9C1629.8,447.3 1630.8,452.7 1631.8,458.2C1632.9,464.0 1634.0,470.2 1635.0,475.8C1635.8,481.0 1636.5,485.2 1637.3,490.9C1638.4,498.3 1639.4,508.7 1640.7,516.4C1641.8,522.8 1643.1,528.3 1644.2,534.1C1645.2,539.6 1646.0,544.9 1647.0,550.2C1647.9,555.4 1648.8,560.3 1649.8,565.4C1650.8,570.8 1652.0,576.3 1653.0,581.8C1654.1,587.3 1655.2,592.8 1656.2,598.2C1657.2,603.3 1658.2,608.3 1659.2,613.3C1660.1,618.4 1660.9,623.3 1661.8,628.4C1662.6,633.7 1663.4,638.9 1664.4,644.7C1665.5,651.4 1666.9,659.4 1668.1,666.4C1669.2,672.9 1670.3,679.1 1671.3,685.2C1672.3,691.2 1673.2,697.2 1674.1,702.9C1675.0,708.1 1675.7,712.8 1676.6,718.0C1677.5,723.6 1678.6,729.7 1679.7,735.6C1680.7,741.5 1681.8,747.6 1682.8,753.2C1683.7,758.4 1684.5,763.3 1685.3,768.3C1686.1,773.3 1687.0,778.4 1687.8,783.4C1688.7,788.4 1689.5,793.6 1690.3,798.5C1691.1,803.3 1691.9,808.0 1692.7,812.5C1693.5,816.9 1694.3,820.8 1695.2,825.2C1696.1,830.0 1697.0,835.4 1698.0,840.3C1698.8,845.0 1699.6,849.4 1700.5,854.1C1701.5,859.0 1702.5,864.1 1703.5,869.2C1704.6,874.6 1705.7,880.2 1706.8,885.6C1707.8,890.7 1708.8,895.7 1709.8,900.7C1710.9,905.7 1711.9,910.8 1713.0,915.8C1714.0,920.8 1715.0,925.9 1716.1,930.9C1717.2,935.9 1718.3,941.0 1719.5,946.0C1720.5,950.8 1721.7,955.7 1722.8,960.1C1723.8,964.1 1724.6,967.6 1725.6,971.4C1726.5,975.1 1727.6,979.0 1728.7,982.7C1729.7,986.1 1730.8,989.5 1732.0,992.7C1733.1,995.8 1733.9,999.2 1735.5,1001.6C1736.9,1003.7 1738.7,1005.6 1740.5,1006.6C1742.1,1007.4 1743.9,1007.7 1745.6,1007.6C1747.3,1007.5 1748.9,1006.5 1750.5,1005.8C1752.2,1005.1 1754.2,1004.6 1755.6,1003.5C1757.0,1002.3 1757.9,1000.6 1759.1,998.9C1760.5,996.9 1762.0,994.5 1763.5,992.4C1765.0,990.2 1766.4,987.7 1768.2,985.9C1769.8,984.3 1771.5,982.9 1773.3,982.1C1774.9,981.4 1776.6,981.6 1778.3,981.3C1780.1,981.0 1782.2,979.8 1784.0,980.0C1785.6,980.2 1786.9,981.3 1788.4,982.1C1790.0,983.0 1791.6,983.8 1793.2,984.9C1794.9,986.1 1796.8,987.3 1798.4,989.0C1800.3,991.0 1801.8,994.1 1803.6,996.6C1805.3,998.9 1807.1,1001.2 1808.8,1003.2C1810.3,1005.0 1811.9,1006.5 1813.3,1008.1C1814.6,1009.6 1815.7,1010.9 1817.0,1012.6C1818.7,1014.8 1820.3,1018.2 1822.4,1020.1C1824.3,1021.8 1826.8,1022.3 1828.7,1023.9C1830.6,1025.6 1832.1,1028.1 1833.7,1030.2C1835.3,1032.3 1837.0,1034.4 1838.6,1036.6C1840.3,1039.0 1842.1,1041.7 1843.7,1044.1C1845.1,1046.2 1846.4,1048.2 1847.7,1050.2C1848.8,1052.0 1849.8,1053.6 1851.0,1055.6C1852.4,1057.8 1854.0,1060.5 1855.4,1062.7C1856.6,1064.6 1857.4,1066.6 1858.9,1068.0C1860.3,1069.4 1862.3,1070.5 1864.1,1071.4C1865.7,1072.2 1867.3,1072.8 1869.0,1073.3C1870.6,1073.8 1872.3,1074.3 1874.0,1074.2C1875.7,1074.1 1877.5,1073.4 1879.0,1072.4C1880.7,1071.3 1882.3,1069.4 1883.8,1067.8C1885.2,1066.2 1886.7,1064.8 1887.8,1062.9C1889.0,1060.8 1889.5,1058.0 1890.6,1055.5C1891.6,1053.0 1892.8,1050.3 1894.1,1047.8C1895.4,1045.3 1896.8,1042.7 1898.1,1040.4C1899.3,1038.5 1900.7,1037.3 1901.6,1035.2C1902.8,1032.5 1903.1,1027.8 1903.9,1025.3C1904.4,1023.7 1904.5,1022.1 1905.4,1021.4C1906.2,1020.8 1907.7,1020.4 1908.6,1020.8C1909.8,1021.3 1910.5,1023.7 1911.5,1025.3C1912.6,1027.2 1913.9,1029.5 1914.9,1031.5C1915.8,1033.3 1916.2,1035.2 1917.4,1036.5C1918.5,1037.7 1920.5,1037.9 1921.8,1039.0C1923.3,1040.3 1924.3,1042.3 1925.7,1043.9C1927.1,1045.6 1928.4,1047.9 1930.0,1049.1C1931.4,1050.1 1933.0,1050.9 1934.4,1051.0C1935.6,1051.1 1936.8,1050.4 1938.0,1050.0C1939.1,1049.6 1940.2,1048.6 1941.3,1048.5C1942.3,1048.4 1943.3,1049.2 1944.4,1049.6C1945.9,1050.1 1947.8,1050.6 1949.5,1051.1C1951.2,1051.6 1952.9,1052.5 1954.5,1052.6C1955.8,1052.7 1957.0,1052.1 1958.3,1052.0C1959.7,1051.8 1961.4,1051.1 1962.7,1051.6C1964.1,1052.1 1965.1,1054.6 1966.5,1055.1C1967.8,1055.5 1969.4,1054.8 1970.9,1054.5C1972.5,1054.2 1974.3,1053.8 1975.9,1053.4C1977.2,1053.1 1978.5,1052.7 1979.8,1052.5C1981.0,1052.2 1982.3,1051.6 1983.4,1052.0C1984.7,1052.5 1985.7,1054.3 1986.8,1055.7C1988.3,1057.4 1989.7,1059.6 1991.2,1061.6C1992.8,1063.6 1994.6,1065.9 1996.3,1067.8C1997.8,1069.5 1999.3,1070.9 2000.9,1072.6C2002.7,1074.3 2004.7,1076.3 2006.3,1077.8C2007.6,1079.0 2008.6,1080.7 2009.9,1080.9C2011.1,1081.1 2012.4,1080.1 2013.6,1079.3C2015.3,1078.2 2017.0,1075.9 2018.7,1074.2C2020.4,1072.5 2022.0,1070.9 2023.7,1069.2C2025.4,1067.5 2027.1,1065.8 2028.8,1064.3C2030.5,1062.8 2032.7,1061.1 2033.9,1060.0C2034.6,1059.4 2035.1,1058.9 2035.5,1058.5"/>
<path id="pb" d="M155.5,395.2C164.4,400.3 164.7,401.3 169.0,402.9C172.4,404.2 175.7,403.6 178.7,404.8C181.6,405.9 184.0,409.0 186.5,409.7C188.5,410.3 190.3,409.1 192.3,409.7C194.8,410.5 197.4,413.5 200.1,415.4C202.9,417.4 206.1,418.9 208.7,421.3C211.4,423.7 213.4,427.0 215.8,429.8C218.1,432.6 220.6,435.2 223.1,438.0C225.7,441.0 228.2,444.8 231.0,447.4C233.5,449.7 236.0,451.7 238.7,453.3C241.2,454.9 244.9,455.4 246.5,457.1C247.7,458.4 247.3,460.2 248.4,462.0C250.0,464.6 253.5,467.8 256.1,470.8C258.7,473.9 261.4,477.1 263.9,480.4C266.5,483.6 269.0,487.0 271.4,490.2C273.6,493.4 275.5,496.5 277.5,499.7C279.5,502.9 281.3,506.1 283.2,509.5C285.2,512.9 287.2,516.5 289.1,520.0C291.0,523.6 292.9,527.1 294.8,530.7C296.8,534.5 298.7,538.2 300.9,542.2C303.2,546.6 305.9,551.6 308.2,556.0C310.4,560.0 312.3,563.6 314.2,567.5C316.1,571.4 318.1,575.4 319.8,579.3C321.3,582.8 322.0,586.3 323.9,589.7C325.9,593.4 329.6,596.9 331.7,600.4C333.5,603.5 334.4,606.4 335.9,609.5C337.5,612.8 339.3,616.1 341.2,619.5C343.2,623.2 345.4,627.3 347.4,630.9C349.3,634.3 351.1,637.5 353.0,640.7C354.9,643.9 357.1,646.9 358.8,650.3C360.6,654.0 361.9,658.0 363.3,662.1C364.7,666.4 366.2,671.2 367.4,675.5C368.5,679.5 369.8,683.1 370.4,687.1C371.0,691.4 370.7,696.0 370.8,700.7C371.0,705.7 371.2,711.6 371.4,716.2C371.5,719.8 371.2,722.5 371.8,725.8C372.4,729.5 374.1,733.4 375.4,737.4C376.8,741.8 378.5,746.7 380.0,751.0C381.4,755.0 382.6,758.7 383.9,762.6C385.2,766.5 386.4,770.2 387.7,774.2C389.0,778.6 390.4,783.3 391.7,787.8C393.0,792.3 394.3,796.9 395.6,801.4C396.9,805.9 398.1,810.4 399.6,814.8C401.2,819.3 402.9,824.3 404.6,828.4C406.1,831.9 408.0,835.6 409.2,838.1C409.9,839.6 410.2,840.1 410.9,841.7C412.4,844.7 415.0,850.7 416.9,855.2C418.8,859.7 420.7,864.1 422.5,868.8C424.5,873.7 426.7,879.4 428.4,884.2C429.9,888.4 431.1,891.9 432.4,895.8C433.7,899.7 434.4,903.6 436.2,907.4C438.1,911.4 441.5,915.5 443.9,919.2C446.0,922.5 447.8,925.3 449.9,928.6C452.3,932.4 455.0,936.8 457.4,940.5C459.5,943.8 461.5,946.9 463.5,949.9C465.4,952.6 467.1,955.6 469.1,957.8C470.9,959.7 472.8,961.7 474.9,962.6C476.8,963.4 478.9,963.2 480.8,963.3C482.8,963.3 484.9,962.5 486.6,963.2C488.5,964.0 489.7,966.5 491.5,968.3C493.7,970.4 496.2,972.7 498.6,975.0C501.2,977.5 503.5,980.6 506.5,982.6C509.4,984.6 512.8,985.7 516.2,987.2C519.9,988.8 524.1,990.9 527.8,991.9C531.1,992.8 534.4,992.6 537.4,993.3C540.2,994.0 543.0,995.3 545.3,995.9C547.0,996.5 548.5,997.5 550.0,997.1C551.7,996.7 553.0,994.6 554.6,993.0C556.6,991.2 558.4,988.4 560.7,986.5C563.0,984.6 565.8,982.9 568.4,981.6C570.9,980.3 574.6,980.2 576.2,978.7C577.5,977.5 577.6,975.7 578.3,974.0C579.0,971.9 579.1,968.0 580.3,967.1C581.1,966.5 581.9,967.1 583.2,967.0C585.5,966.9 590.5,967.0 593.3,966.3C595.4,965.8 596.9,964.4 598.7,964.0C600.5,963.6 602.9,963.2 604.1,964.0C605.2,964.7 605.6,966.7 606.1,968.0C606.6,969.3 606.4,971.1 607.2,971.8C607.9,972.4 609.2,972.2 610.3,972.3C611.7,972.4 613.7,971.8 615.0,972.5C616.3,973.2 617.3,974.7 618.1,976.4C619.1,978.6 618.7,982.6 619.6,984.9C620.3,986.7 621.2,987.8 622.3,989.4C623.7,991.3 625.7,993.7 627.5,995.7C629.2,997.6 630.9,1000.9 632.8,1001.2C634.4,1001.5 636.2,999.6 638.0,998.5C640.0,997.3 642.7,996.1 644.4,994.2C646.2,992.2 646.8,989.3 648.1,986.4C649.6,982.9 651.3,978.6 652.8,974.7C654.2,970.9 655.4,967.2 656.7,963.2C658.1,959.0 659.5,954.2 660.7,950.1C661.8,946.5 662.2,945.0 663.5,939.9C667.2,925.8 678.4,879.5 683.2,858.8C686.2,846.0 687.8,838.5 690.1,827.7C692.6,816.0 695.3,802.7 697.5,791.0C699.6,780.2 701.4,770.1 703.3,760.0C705.1,750.2 707.0,739.8 708.7,731.1C710.2,723.9 711.5,718.0 712.9,711.6C714.3,705.1 715.6,699.3 717.1,692.3C718.9,684.1 721.0,674.1 723.0,665.2C724.9,656.7 727.8,647.7 728.8,640.0C729.6,633.7 728.5,628.6 729.4,622.7C730.3,616.4 733.1,610.1 734.6,603.3C736.2,596.0 737.3,587.5 738.6,580.1C739.9,573.4 741.1,567.3 742.5,560.7C743.9,553.8 745.7,546.4 747.3,539.4C748.8,532.8 750.4,526.5 752.0,520.0C753.6,513.6 755.3,507.1 756.9,500.7C758.5,494.2 760.1,487.8 761.7,481.3C763.3,474.9 764.9,468.3 766.4,462.0C767.8,456.0 769.1,450.2 770.5,444.5C771.8,439.2 773.1,434.4 774.6,429.1C776.2,423.4 778.0,417.8 779.9,411.5C782.1,404.4 784.7,395.8 786.9,388.5C789.0,381.8 791.0,375.3 793.0,369.2C794.8,363.7 796.7,358.4 798.4,353.6C799.8,349.4 800.3,345.5 802.3,342.0C804.4,338.4 807.9,335.3 811.0,332.3C814.0,329.4 817.3,327.1 820.5,324.3C823.8,321.4 827.1,318.1 830.4,314.9C833.7,311.7 836.6,307.7 840.1,305.2C843.2,303.0 846.8,301.9 849.9,300.5C852.5,299.3 854.7,297.7 857.5,297.1C860.5,296.4 864.0,296.8 867.2,296.8C870.4,296.8 873.7,297.1 876.9,297.3C880.1,297.5 883.5,297.9 886.5,298.0C889.2,298.1 891.9,298.6 894.3,297.9C896.8,297.2 898.8,293.8 901.1,293.6C903.3,293.4 906.0,297.1 907.8,296.5C909.9,295.8 911.1,290.4 912.5,287.7C913.7,285.3 914.1,281.8 915.6,281.0C916.9,280.4 919.0,280.8 920.4,282.0C922.8,284.0 923.7,290.9 925.5,295.4C927.3,300.0 928.9,308.8 931.1,309.1C932.8,309.3 934.7,302.0 936.9,301.3C938.7,300.8 940.6,303.3 942.7,303.3C945.1,303.3 947.9,301.4 950.5,300.6C953.0,299.8 955.7,298.6 958.2,298.4C960.5,298.2 962.9,300.1 965.0,299.4C967.5,298.6 969.7,294.7 971.7,292.6C973.5,290.9 974.7,288.5 976.6,287.8C978.5,287.1 981.3,287.2 983.3,288.2C985.6,289.4 987.1,293.6 989.2,295.5C991.0,297.2 993.4,299.8 995.0,299.4C996.8,298.9 997.8,293.2 999.1,290.9C1000.0,289.2 1000.8,286.8 1001.7,286.8C1002.8,286.9 1003.9,291.0 1005.1,293.8C1006.8,297.5 1008.9,302.9 1010.6,307.1C1012.2,310.9 1013.5,317.7 1015.2,317.8C1016.8,317.9 1018.7,311.9 1020.4,309.3C1021.9,307.1 1023.0,304.0 1024.9,303.3C1026.8,302.6 1029.6,305.3 1031.7,304.8C1033.9,304.2 1035.6,301.2 1037.6,299.5C1039.5,297.8 1041.1,295.4 1043.3,294.6C1045.5,293.8 1048.4,294.9 1051.0,294.6C1053.6,294.3 1056.4,293.3 1058.9,293.0C1060.9,292.7 1062.8,292.1 1064.6,292.6C1066.7,293.2 1068.2,296.2 1070.4,297.1C1072.7,298.0 1075.9,296.8 1078.1,297.9C1080.4,299.1 1082.0,302.2 1084.0,304.2C1086.0,306.2 1088.3,308.4 1090.1,309.8C1091.4,310.7 1092.2,311.8 1093.6,312.0C1095.2,312.3 1097.3,310.6 1099.4,310.6C1101.8,310.6 1104.8,311.6 1107.1,312.2C1109.2,312.8 1110.9,313.8 1113.0,313.9C1115.4,314.0 1120.5,312.2 1120.7,312.6C1120.8,312.8 1119.9,313.3 1120.0,313.4C1120.2,313.7 1123.6,312.5 1125.4,312.1C1127.2,311.7 1129.2,310.6 1130.8,311.1C1132.5,311.7 1133.8,314.2 1135.3,316.0C1136.9,317.8 1138.8,319.7 1140.1,322.0C1141.6,324.7 1142.5,328.0 1143.6,331.3C1144.8,335.1 1146.0,339.8 1147.0,343.6C1147.8,346.9 1148.1,350.6 1149.0,352.9C1149.6,354.3 1150.2,354.9 1150.9,356.2C1152.0,358.1 1153.2,361.1 1154.8,363.2C1156.4,365.2 1158.2,367.4 1160.3,368.6C1162.2,369.7 1164.4,370.4 1166.5,370.5C1168.6,370.6 1170.7,370.2 1172.7,369.4C1174.8,368.5 1176.8,366.7 1178.6,365.2C1180.4,363.8 1182.2,362.6 1183.5,360.8C1184.9,358.9 1185.7,356.1 1186.8,354.0C1187.8,352.2 1188.6,350.9 1189.6,349.1C1191.0,346.8 1192.8,343.9 1194.3,341.3C1195.9,338.7 1197.5,336.1 1199.1,333.6C1200.6,331.2 1202.2,328.8 1203.7,326.6C1205.0,324.7 1206.0,322.7 1207.5,321.2C1208.9,319.9 1210.3,318.7 1212.2,318.1C1214.5,317.4 1217.9,318.3 1220.7,318.1C1223.3,317.9 1226.0,317.5 1228.4,317.1C1230.3,316.8 1232.4,316.7 1233.8,315.8C1235.2,314.9 1235.6,313.2 1236.9,311.9C1238.6,310.2 1241.3,308.7 1243.7,307.0C1246.3,305.0 1249.2,302.6 1252.0,300.6C1254.5,298.8 1256.8,296.8 1259.4,295.6C1261.9,294.4 1264.7,293.2 1267.1,293.3C1269.3,293.4 1271.0,294.8 1273.2,295.8C1275.7,296.9 1278.8,299.0 1281.3,299.7C1283.3,300.3 1285.2,300.6 1287.1,300.3C1289.1,300.0 1291.0,298.7 1292.9,297.9C1294.9,297.2 1296.9,295.6 1298.7,295.9C1300.7,296.3 1302.5,299.1 1304.4,300.8C1306.4,302.6 1308.1,305.2 1310.4,306.5C1312.7,307.8 1315.5,308.4 1318.1,308.5C1320.7,308.6 1323.2,307.5 1325.8,307.0C1328.4,306.4 1330.9,305.9 1333.5,305.2C1336.1,304.5 1338.8,304.1 1341.3,302.7C1344.1,301.1 1346.6,298.0 1349.0,295.8C1351.1,293.8 1352.6,291.2 1354.9,290.1C1357.1,289.0 1360.1,289.8 1362.6,289.1C1365.2,288.4 1367.8,287.0 1370.2,285.8C1372.4,284.7 1374.4,283.0 1376.2,282.3C1377.6,281.7 1378.8,281.0 1380.1,281.4C1382.0,281.9 1383.9,285.3 1385.9,287.2C1387.9,289.1 1389.9,291.1 1391.9,292.7C1393.8,294.2 1395.9,295.6 1397.6,296.7C1398.9,297.5 1400.3,299.1 1401.4,298.8C1403.0,298.3 1404.0,293.6 1405.3,291.1C1406.6,288.7 1407.6,286.0 1409.1,284.3C1410.3,283.0 1411.8,281.3 1413.0,281.4C1414.3,281.5 1415.5,284.0 1416.7,285.3C1417.7,286.6 1419.0,289.3 1419.7,289.1C1420.8,288.8 1419.1,279.9 1420.7,277.5C1421.9,275.7 1424.5,275.5 1426.4,274.4C1428.3,273.2 1430.3,271.9 1432.2,270.6C1434.2,269.1 1436.0,266.5 1438.1,265.9C1439.9,265.4 1442.0,266.4 1443.9,266.6C1445.9,266.7 1448.5,267.9 1449.8,266.8C1451.8,265.2 1451.1,258.3 1451.7,254.2C1452.4,250.3 1452.1,244.3 1453.6,242.6C1454.3,241.7 1455.6,241.3 1456.5,241.7C1458.0,242.3 1459.3,245.9 1460.4,248.4C1461.7,251.2 1462.5,254.9 1463.7,258.0C1464.8,260.7 1465.4,264.5 1467.2,265.9C1468.7,267.0 1471.4,265.7 1473.0,266.8C1474.8,268.0 1475.5,272.1 1476.9,273.6C1477.9,274.6 1479.1,274.4 1480.0,275.5C1481.5,277.4 1481.7,282.9 1483.1,285.6C1484.2,287.7 1485.5,290.4 1486.9,290.6C1488.3,290.8 1490.0,288.0 1491.4,286.9C1492.7,286.0 1493.6,284.6 1495.1,284.3C1496.9,283.9 1499.5,286.0 1501.4,285.6C1503.2,285.3 1504.7,283.1 1506.4,282.4C1508.0,281.7 1509.9,280.7 1511.5,281.2C1513.4,281.8 1515.0,284.7 1516.5,286.8C1518.1,289.0 1519.3,292.2 1520.5,294.3C1521.3,295.8 1521.7,297.2 1522.8,298.2C1523.9,299.3 1525.8,299.6 1527.2,300.7C1528.8,302.0 1530.1,304.0 1531.6,305.7C1533.2,307.5 1534.6,310.8 1536.6,311.4C1538.4,311.9 1540.9,310.4 1542.9,309.5C1545.1,308.5 1547.1,305.9 1549.2,305.5C1550.9,305.2 1552.6,305.8 1554.2,306.3C1556.0,306.9 1557.7,308.3 1559.5,309.1C1561.1,309.8 1562.8,310.7 1564.3,310.7C1565.6,310.7 1566.9,310.2 1568.1,309.5C1569.5,308.7 1570.4,306.4 1571.9,305.7C1573.3,305.1 1575.6,304.9 1576.9,305.5C1578.3,306.1 1579.3,307.8 1580.0,309.5C1580.8,311.5 1580.0,314.6 1580.7,317.0C1581.4,319.6 1583.2,322.1 1584.5,324.6C1585.7,327.1 1587.0,329.6 1588.2,332.1C1589.4,334.6 1590.6,337.2 1591.6,339.8C1592.7,342.6 1593.5,345.3 1594.4,348.5C1595.6,352.6 1596.7,357.7 1597.9,362.6C1599.1,367.8 1600.4,373.6 1601.6,378.9C1602.7,384.0 1603.8,388.9 1604.9,394.0C1606.1,399.3 1607.4,404.9 1608.6,410.4C1609.8,415.9 1611.2,421.3 1612.4,426.8C1613.6,432.2 1614.8,437.7 1616.0,443.1C1617.1,448.6 1618.2,454.0 1619.3,459.5C1620.4,464.9 1621.4,470.4 1622.4,475.8C1623.4,481.3 1624.3,486.2 1625.4,492.2C1626.7,499.5 1628.3,509.1 1629.7,516.3C1630.9,522.3 1631.9,527.2 1633.1,532.7C1634.3,538.5 1635.6,544.4 1636.9,550.3C1638.2,556.2 1639.4,562.1 1640.7,568.0C1642.0,573.9 1643.3,580.0 1644.5,585.6C1645.6,590.8 1646.6,595.7 1647.6,600.7C1648.6,605.7 1649.7,611.0 1650.7,615.8C1651.6,620.2 1652.4,623.9 1653.1,628.4C1654.0,633.5 1654.8,638.9 1655.6,644.7C1656.4,651.4 1656.9,659.6 1658.0,666.4C1659.0,672.6 1660.5,678.3 1661.6,684.0C1662.7,689.6 1663.7,694.9 1664.7,700.3C1665.7,705.7 1666.7,711.2 1667.7,716.7C1668.8,722.2 1669.8,727.6 1670.9,733.1C1671.9,738.5 1673.0,744.2 1674.0,749.4C1674.9,754.2 1675.7,758.7 1676.5,763.3C1677.3,767.9 1678.2,772.4 1679.0,777.1C1679.8,782.0 1680.6,786.8 1681.5,792.2C1682.5,798.5 1683.7,806.3 1684.8,812.6C1685.6,818.0 1686.4,822.7 1687.2,827.7C1688.0,832.7 1688.9,837.8 1689.7,842.8C1690.5,847.8 1691.4,852.9 1692.2,857.9C1693.0,862.9 1693.9,868.0 1694.7,873.0C1695.6,878.0 1696.4,883.1 1697.3,888.1C1698.1,893.1 1698.9,898.2 1699.8,903.2C1700.7,908.2 1701.5,913.2 1702.4,918.3C1703.4,923.3 1704.4,928.4 1705.4,933.4C1706.5,938.4 1707.6,943.5 1708.6,948.5C1709.6,953.3 1710.6,958.1 1711.4,962.6C1712.2,966.9 1712.8,971.0 1713.5,975.2C1714.2,979.4 1714.8,983.6 1715.4,987.8C1716.0,992.0 1716.7,996.4 1717.2,1000.3C1717.7,1003.9 1717.2,1007.6 1718.5,1010.4C1719.7,1012.9 1722.5,1014.8 1724.4,1016.5C1726.0,1017.9 1727.5,1019.2 1729.2,1020.2C1730.8,1021.2 1732.5,1022.0 1734.3,1022.8C1736.2,1023.6 1738.4,1024.7 1740.5,1024.9C1742.6,1025.1 1744.9,1024.8 1746.8,1024.2C1748.5,1023.7 1750.2,1023.1 1751.2,1021.7C1752.6,1019.8 1752.5,1015.6 1753.1,1012.9C1753.6,1010.6 1754.0,1006.6 1754.4,1006.6C1754.8,1006.6 1755.1,1012.1 1755.4,1015.4C1755.7,1019.8 1755.6,1030.4 1756.3,1030.5C1756.8,1030.5 1757.6,1025.5 1758.2,1023.0C1758.8,1020.7 1759.4,1016.1 1760.0,1016.1C1760.5,1016.1 1761.1,1018.8 1761.6,1020.6C1762.3,1023.2 1763.1,1027.2 1763.6,1030.5C1764.2,1033.9 1763.9,1040.1 1765.1,1040.6C1765.8,1040.9 1767.4,1038.8 1768.2,1038.0C1768.7,1037.6 1769.1,1036.7 1769.5,1036.8C1770.3,1037.1 1770.2,1042.5 1770.6,1045.6C1771.1,1049.2 1771.6,1053.4 1772.1,1057.0C1772.5,1060.1 1772.7,1065.7 1773.3,1065.8C1773.8,1065.9 1774.7,1060.7 1775.2,1060.7C1775.8,1060.8 1776.0,1065.6 1776.5,1068.3C1777.0,1071.4 1777.7,1075.0 1778.3,1078.4C1778.9,1081.7 1779.7,1085.6 1780.3,1088.4C1780.7,1090.4 1780.4,1092.5 1781.4,1093.5C1782.3,1094.5 1784.3,1094.3 1785.8,1094.7C1787.4,1095.1 1789.2,1095.6 1790.9,1095.8C1792.6,1096.1 1794.2,1096.3 1795.9,1096.3C1797.6,1096.3 1799.2,1096.1 1800.9,1095.8C1802.6,1095.6 1804.3,1095.2 1806.0,1094.9C1807.7,1094.6 1809.3,1094.3 1811.0,1094.0C1812.9,1093.7 1815.1,1093.3 1817.1,1093.0C1818.9,1092.7 1820.6,1092.4 1822.4,1092.2C1824.4,1091.9 1826.6,1091.4 1828.7,1091.6C1830.8,1091.8 1832.7,1092.7 1834.8,1093.5C1836.9,1094.2 1839.1,1095.3 1841.3,1096.2C1843.4,1097.0 1845.5,1097.9 1847.6,1098.5C1849.7,1099.1 1851.6,1099.5 1853.8,1099.8C1856.2,1100.2 1858.9,1100.3 1861.4,1100.3C1863.9,1100.4 1866.4,1100.2 1868.9,1100.0C1871.4,1099.9 1874.0,1099.5 1876.5,1099.3C1879.0,1099.0 1881.5,1098.7 1884.0,1098.5C1886.5,1098.3 1889.1,1098.2 1891.6,1098.1C1894.1,1098.0 1896.6,1098.1 1899.1,1098.1C1901.6,1098.0 1904.2,1098.0 1906.7,1098.1C1909.2,1098.1 1911.7,1098.1 1914.2,1098.4C1916.7,1098.6 1919.2,1099.0 1921.7,1099.5C1924.3,1099.9 1926.8,1100.5 1929.4,1100.9C1931.9,1101.3 1934.5,1102.0 1936.9,1101.9C1939.1,1101.8 1941.4,1101.0 1943.2,1100.7C1944.6,1100.5 1945.4,1100.4 1946.9,1100.4C1949.0,1100.4 1951.9,1100.7 1954.5,1100.8C1957.3,1101.0 1960.6,1101.4 1963.3,1101.4C1965.6,1101.4 1967.6,1101.3 1969.6,1101.0C1971.3,1100.8 1972.9,1100.3 1974.6,1100.0C1976.3,1099.7 1978.0,1099.3 1979.7,1099.2C1981.4,1099.2 1982.9,1099.3 1984.7,1099.5C1986.7,1099.8 1988.8,1100.3 1991.0,1100.7C1993.4,1101.2 1996.0,1101.7 1998.5,1102.2C2001.0,1102.8 2003.6,1103.4 2006.1,1103.9C2008.3,1104.5 2010.3,1105.1 2012.4,1105.5C2014.5,1105.9 2016.6,1106.2 2018.7,1106.4C2020.8,1106.5 2022.9,1106.4 2025.0,1106.3C2027.1,1106.3 2029.4,1106.1 2031.3,1106.2C2032.8,1106.2 2034.1,1106.2 2035.5,1106.3"/>
<path id="ps" d="M154.5,1085.7 L623.9,1085.7 L625.4,253.5 L1093.6,253.5 L1095.2,232.8 L1563.2,232.8 L1563.5,1106.1 L2033.0,1106.1"/>
<path id="pd" d="M155.5,1052.1 L623.9,1052.1 L625.4,219.9 L1093.6,219.9 L1095.2,199.2 L1563.2,199.2 L1563.5,1072.5 M155.5,1119.3 L623.9,1119.3 L625.4,287.1 L1093.6,287.1 L1095.2,266.5 L1563.2,266.5 L1563.5,1139.8"/>
<path id="pe" d="M1563.5,1072.5 L2036.0,1072.5 M1563.5,1139.8 L2036.0,1139.8"/>
</defs>
<g clip-path="url(#out)" fill="none" stroke-linejoin="round" shape-rendering="crispEdges">
<use href="#pd" stroke="#000" stroke-width="5.10" stroke-dasharray="17.8 16.2" stroke-dashoffset="-0.60"/>
<use href="#pe" stroke="#000" stroke-width="5.10" stroke-dasharray="17.8 16.2" stroke-dashoffset="0.30"/>
<use href="#ps" stroke="#000" stroke-width="6.00" stroke-linejoin="miter"/>
<use href="#pg" stroke="#77ac30" stroke-width="7.00"/>
<use href="#pr" stroke="#ff0000" stroke-width="7.00"/>
<use href="#pb" stroke="#0072bd" stroke-width="7.00"/>
</g>
<rect x="492.0" y="33.5" width="87.7" height="1100.3" fill="#ffe597" fill-opacity="0.665" shape-rendering="crispEdges"/>
<rect x="1149.2" y="33.5" width="88.6" height="1100.3" fill="#ffe597" fill-opacity="0.665" shape-rendering="crispEdges"/>
<rect x="1729.0" y="33.5" width="87.8" height="1100.3" fill="#ffe597" fill-opacity="0.665" shape-rendering="crispEdges"/>
<path d="M406.0,26.9V1147.9 M656.5,26.9V1147.9 M907.1,26.9V1147.9 M1157.6,26.9V1147.9 M1408.1,26.9V1147.9 M1658.6,26.9V1147.9 M1909.1,26.9V1147.9 M155.5,1035.8H2034.4 M155.5,923.7H2034.4 M155.5,811.6H2034.4 M155.5,699.5H2034.4 M155.5,587.4H2034.4 M155.5,475.3H2034.4 M155.5,363.2H2034.4 M155.5,251.1H2034.4 M155.5,139.0H2034.4" stroke="#6b5410" stroke-opacity="0.16" stroke-width="2" fill="none" clip-path="url(#in)" shape-rendering="crispEdges"/>
<g clip-path="url(#in)" fill="none" stroke-linejoin="round">
<use href="#pd" stroke="#a89868" stroke-width="4.90" stroke-dasharray="16.4 17.6" stroke-dashoffset="-1.30"/>
<use href="#pe" stroke="#a89868" stroke-width="4.90" stroke-dasharray="16.4 17.6" stroke-dashoffset="-0.40"/>
<use href="#ps" stroke="#a89868" stroke-width="5.80" stroke-linejoin="miter"/>
<use href="#pg" stroke="#d0d578" stroke-width="5.60"/>
<use href="#pr" stroke="#fd9860" stroke-width="5.60"/>
<use href="#pb" stroke="#aac0a8" stroke-width="5.60"/>
</g>
<defs><clipPath id="c1"><path clip-rule="evenodd" d="M-400,-100H400V60H-400Z M2.05,-5.57H12.58V1.5H2.05Z M18.88,-5.57H28.99V1.5H18.88Z"/></clipPath></defs>
<g font-kerning="none" text-rendering="geometricPrecision" font-size="53.20" fill="#262626" stroke="#262626" stroke-width="1.30" stroke-linejoin="round">
<text transform="translate(552.10,752.00) rotate(-90)" x="0.00" y="0">Disturbance</text>
<text transform="translate(1210.10,752.00) rotate(-90)" x="0.00" y="0">Disturbance</text>
<text transform="translate(1787.60,752.00) rotate(-90)" x="0.00" y="0">Disturbance</text>
</g>
<rect x="1661.5" y="43.2" width="359.5" height="219.4" fill="#fff" stroke="#000" stroke-width="5.8" shape-rendering="crispEdges"/>
<g font-kerning="none" text-rendering="geometricPrecision" font-size="53.20" fill="#000" stroke="#000" stroke-width="1.55" stroke-linejoin="round">
<path d="M1676.2,78.5H1762" stroke="#000" stroke-width="6.4" stroke-linecap="round" fill="none"/>
<text transform="translate(1769.50,95.90) scale(1.000,1.030)" x="0.00" y="0">Reference</text>
<path d="M1676.2,135.2H1762" stroke="#77ac30" stroke-width="6.4" stroke-linecap="round" fill="none"/>
<text transform="translate(1769.50,151.40) scale(1.000,1.030)" x="0.00" y="0">PID</text>
<path d="M1676.2,185.2H1762" stroke="#0072bd" stroke-width="6.4" stroke-linecap="round" fill="none"/>
<g transform="translate(1770.70,201.30) translate(34.90,0) scale(1.000,1.030)"><text x="-34.90 0.00 27.19 44.90 77.40 112.88 127.66" y="0" clip-path="url(#c1)">T1-FPID</text></g>
<path d="M1676.2,233.3H1762" stroke="#ff0000" stroke-width="6.4" stroke-linecap="round" fill="none"/>
<text transform="translate(1769.90,249.60) scale(1.000,1.030)" x="0.00" y="0">IT2-FPID</text>
</g>
<g font-kerning="none" text-rendering="geometricPrecision" font-size="53.20" fill="#262626" stroke="#262626" stroke-width="1.30" stroke-linejoin="round">
<text transform="translate(168.90,1190.05) scale(0.980,1.025)" x="-14.79" y="0">0</text>
<g transform="translate(407.40,1194.60) translate(-26.64,0) scale(0.980,1.025)"><text x="0.00 27.19" y="0" clip-path="url(#c1)">10</text></g>
<text transform="translate(648.60,1195.40) scale(0.980,1.025)" x="-29.59" y="0">20</text>
<text transform="translate(908.50,1196.10) scale(0.980,1.025)" x="-29.59" y="0">30</text>
<text transform="translate(1156.05,1196.30) scale(0.980,1.025)" x="-29.59" y="0">40</text>
<text transform="translate(1406.85,1197.10) scale(0.980,1.025)" x="-29.59" y="0">50</text>
<text transform="translate(1656.40,1195.40) scale(0.980,1.025)" x="-29.59" y="0">60</text>
<text transform="translate(1910.40,1195.00) scale(0.980,1.025)" x="-29.59" y="0">70</text>
<text transform="translate(148.80,65.85) scale(0.980,1.025)" x="-29.59" y="0">2</text>
<g transform="translate(146.80,160.70) translate(-70.12,0) scale(0.980,1.025)"><text x="0.00 27.19 41.97" y="0" clip-path="url(#c1)">1.8</text></g>
<g transform="translate(146.80,272.10) translate(-70.12,0) scale(0.980,1.025)"><text x="0.00 27.19 41.97" y="0" clip-path="url(#c1)">1.6</text></g>
<g transform="translate(145.70,384.00) translate(-70.12,0) scale(0.980,1.025)"><text x="0.00 27.19 41.97" y="0" clip-path="url(#c1)">1.4</text></g>
<g transform="translate(147.20,494.80) translate(-70.12,0) scale(0.980,1.025)"><text x="0.00 27.19 41.97" y="0" clip-path="url(#c1)">1.2</text></g>
<g transform="translate(149.30,606.60) translate(-26.64,0) scale(0.980,1.025)"><text x="0.00" y="0" clip-path="url(#c1)">1</text></g>
<text transform="translate(146.80,718.50) scale(0.980,1.025)" x="-73.96" y="0">0.8</text>
<text transform="translate(146.80,828.70) scale(0.980,1.025)" x="-73.96" y="0">0.6</text>
<text transform="translate(145.70,940.20) scale(0.980,1.025)" x="-73.96" y="0">0.4</text>
<text transform="translate(147.20,1052.00) scale(0.980,1.025)" x="-73.96" y="0">0.2</text>
<text transform="translate(152.30,1162.90) scale(0.980,1.025)" x="-29.59" y="0">0</text>
<text transform="translate(1092.00,1243.80)" x="-116.75" y="0">time (sec)</text>
<text transform="translate(60.10,568.70) rotate(-90)" x="-116.73" y="0">x-axis (m)</text>
</g>
</svg>
</body></html>
